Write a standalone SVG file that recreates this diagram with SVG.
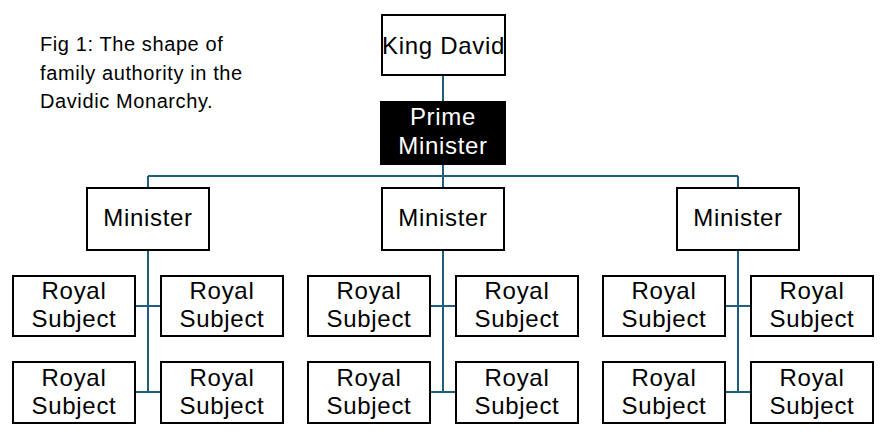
<svg xmlns="http://www.w3.org/2000/svg" width="884" height="441" viewBox="0 0 884 441">
<style>
.box{fill:#fff;stroke:#000;stroke-width:2}
.dark{fill:#000;stroke:#000;stroke-width:2}
.t{font-family:"Liberation Sans",Arial,sans-serif;font-size:24px;letter-spacing:0.7px;text-anchor:middle;fill:#000}
.w{fill:#fff}
.cap{font-family:"Liberation Sans",Arial,sans-serif;font-size:20px;letter-spacing:0.6px;fill:#000}
.ln{stroke:#1F5F7E;stroke-width:2;fill:none}
</style>
<rect width="884" height="441" fill="#fff"/>
<g id="caption">
<text class="cap" x="40" y="51">Fig 1: The shape of</text>
<text class="cap" x="40" y="80">family authority in the</text>
<text class="cap" x="40" y="108">Davidic Monarchy.</text>
</g>
<g id="connectors">
<path class="ln" d="M443,75V102 M443,164V188 M148,176H738 M148,176V188 M738,176V188"/>
<path class="ln" d="M148,250V392 M135,306H161 M135,392H161"/>
<path class="ln" d="M443,250V392 M430,306H456 M430,392H456"/>
<path class="ln" d="M738,250V392 M725,306H751 M725,392H751"/>
</g>
<g id="king">
<rect class="box" x="382" y="15" width="123" height="60"/>
<text class="t" x="443.5" y="54">King David</text>
</g>
<g id="prime">
<rect class="dark" x="381" y="102" width="124" height="62"/>
<text class="t w" x="443" y="125">Prime</text>
<text class="t w" x="443" y="154">Minister</text>
</g>
<g id="minister1"><rect class="box" x="87" y="188" width="122" height="62"/><text class="t" x="148" y="226">Minister</text></g>
<g id="minister2"><rect class="box" x="382" y="188" width="122" height="62"/><text class="t" x="443" y="226">Minister</text></g>
<g id="minister3"><rect class="box" x="677" y="188" width="122" height="62"/><text class="t" x="738" y="226">Minister</text></g>
<g id="rs1"><rect class="box" x="13" y="276" width="122" height="60"/><text class="t" x="74" y="299">Royal</text><text class="t" x="74" y="327">Subject</text></g>
<g id="rs2"><rect class="box" x="161" y="276" width="122" height="60"/><text class="t" x="222" y="299">Royal</text><text class="t" x="222" y="327">Subject</text></g>
<g id="rs3"><rect class="box" x="13" y="362" width="122" height="61"/><text class="t" x="74" y="386">Royal</text><text class="t" x="74" y="414">Subject</text></g>
<g id="rs4"><rect class="box" x="161" y="362" width="122" height="61"/><text class="t" x="222" y="386">Royal</text><text class="t" x="222" y="414">Subject</text></g>
<g id="rs5"><rect class="box" x="308" y="276" width="122" height="60"/><text class="t" x="369" y="299">Royal</text><text class="t" x="369" y="327">Subject</text></g>
<g id="rs6"><rect class="box" x="456" y="276" width="122" height="60"/><text class="t" x="517" y="299">Royal</text><text class="t" x="517" y="327">Subject</text></g>
<g id="rs7"><rect class="box" x="308" y="362" width="122" height="61"/><text class="t" x="369" y="386">Royal</text><text class="t" x="369" y="414">Subject</text></g>
<g id="rs8"><rect class="box" x="456" y="362" width="122" height="61"/><text class="t" x="517" y="386">Royal</text><text class="t" x="517" y="414">Subject</text></g>
<g id="rs9"><rect class="box" x="603" y="276" width="122" height="60"/><text class="t" x="664" y="299">Royal</text><text class="t" x="664" y="327">Subject</text></g>
<g id="rs10"><rect class="box" x="751" y="276" width="122" height="60"/><text class="t" x="812" y="299">Royal</text><text class="t" x="812" y="327">Subject</text></g>
<g id="rs11"><rect class="box" x="603" y="362" width="122" height="61"/><text class="t" x="664" y="386">Royal</text><text class="t" x="664" y="414">Subject</text></g>
<g id="rs12"><rect class="box" x="751" y="362" width="122" height="61"/><text class="t" x="812" y="386">Royal</text><text class="t" x="812" y="414">Subject</text></g>
</svg>
